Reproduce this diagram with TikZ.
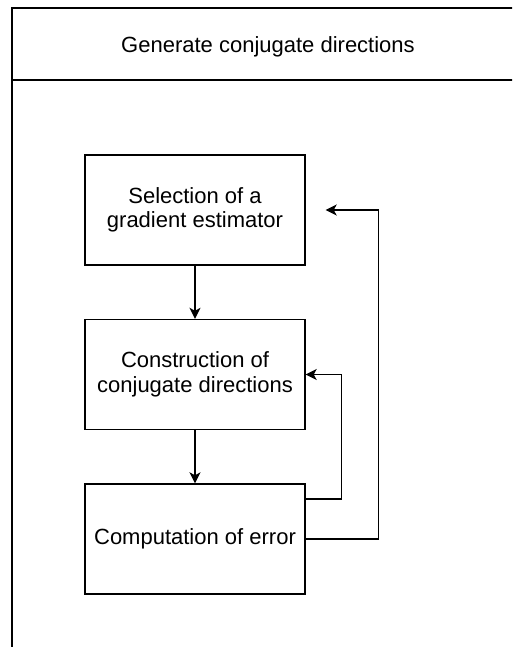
\documentclass[tikz,border=0pt]{standalone}
\usepackage{fontspec}
\setmainfont{Liberation Sans}
\usetikzlibrary{arrows.meta,calc}
\begin{document}
\begin{tikzpicture}[x=1pt,y=-1pt,
  line width=1.4pt,
  box/.style={draw, rectangle, minimum width=220pt, minimum height=110pt, inner sep=0pt,
    align=center, font=\fontsize{22}{24.5}\selectfont},
  arr/.style={-{Stealth[length=11pt,width=11pt,inset=3pt]}}]
\useasboundingbox (0,0) rectangle (512,647);
\clip (0,0) rectangle (512,647);
% frame
\draw (530,8) -- (12,8) -- (12,660);
\draw (12,80) -- (530,80);
\node[anchor=base, font=\fontsize{22}{24.5}\selectfont, inner sep=0pt] (title) at (268,53) {Generate conjugate directions};
% boxes
\node[box] (a) at (195,210) {Selection of a\\gradient estimator};
\node[box] (b) at (195,374.5) {Construction of\\conjugate directions};
\node[box] (c) at (195,539) {Computation of error};
\coordinate (t) at ([xshift=20pt]a.east);
% arrows
\draw[arr] (a) -- (b);
\draw[arr] (b) -- (c);
\draw[arr] ([yshift=40pt]c.east) -- ++(36,0) |- (b.east);
\draw[arr] (c.east) -- ++(73,0) |- (t);
\end{tikzpicture}
\end{document}
